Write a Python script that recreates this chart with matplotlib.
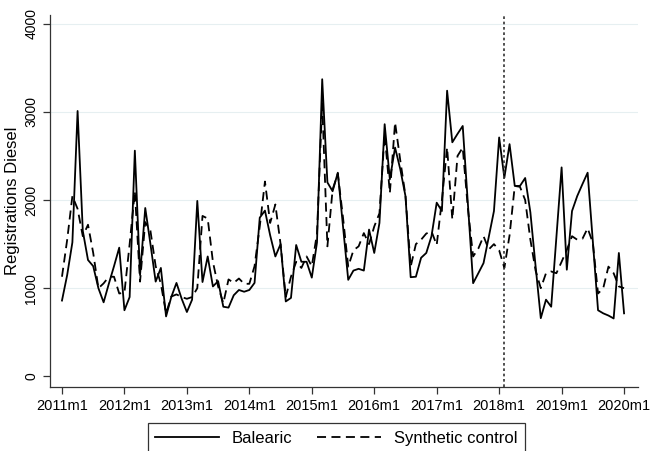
import numpy as np
import matplotlib
matplotlib.use("Agg")
import matplotlib.pyplot as plt

plt.rcParams['font.family'] = ['Liberation Sans', 'DejaVu Sans']

# monthly registrations, 2011m1 .. 2020m1
balearic = [860, 1150, 1520, 3010, 1650, 1320, 1250, 1000, 840, 1050, 1250, 1460,
            750, 900, 2560, 1150, 1910, 1500, 1075, 1230, 680, 900, 1060, 880,
            730, 870, 1990, 1070, 1360, 1020, 1080, 790, 780, 920, 980, 960,
            980, 1060, 1800, 1880, 1600, 1360, 1500, 850, 890, 1490, 1300, 1300,
            1120, 1520, 3370, 2200, 2100, 2310, 1700, 1095, 1200, 1220, 1200, 1665,
            1400, 1740, 2860, 2235, 2595, 2350, 2045, 1125, 1130, 1345, 1400, 1590,
            1970, 1875, 3240, 2655, 2750, 2840, 1950, 1057, 1170, 1285, 1580, 1875,
            2710, 2253, 2634, 2160, 2160, 2250, 1860, 1250, 660, 870, 790, 1580,
            2370, 1210, 1875, 2045, 2180, 2310, 1530, 750, 715, 690, 657, 1400,
            715]
synthetic = [1130, 1550, 2045, 1900, 1590, 1720, 1400, 1000, 1055, 1130, 1130, 940,
             950, 1500, 2100, 1075, 1750, 1650, 1250, 1050, 715, 905, 930, 900,
             880, 900, 1000, 1820, 1790, 1300, 1020, 830, 1100, 1060, 1110, 1050,
             1050, 1250, 1700, 2210, 1740, 1950, 1500, 900, 1130, 1300, 1230, 1360,
             1250, 1620, 3100, 1475, 2120, 2300, 1800, 1245, 1430, 1475, 1625, 1500,
             1700, 1850, 2750, 2080, 2880, 2450, 2050, 1245, 1500, 1550, 1620, 1645,
             1490, 2000, 2595, 1780, 2500, 2595, 1900, 1360, 1450, 1590, 1440, 1500,
             1430, 1230, 1600, 2160, 2150, 2000, 1550, 1200, 1000, 1170, 1190, 1170,
             1300, 1435, 1590, 1550, 1560, 1680, 1515, 940, 1000, 1245, 1170, 1020,
             1000]
tick_labels = ["%dm1" % y for y in range(2011, 2021)]
yticks = [0, 1000, 2000, 3000, 4000]
treatment_month = 85  # 2018m2

months = np.arange(len(balearic))

fig = plt.figure(figsize=(6.52, 4.51), dpi=100)
ax = fig.add_axes([0.0767, 0.142, 0.902, 0.825])

for v in yticks[1:]:
    ax.axhline(v, color='#e6eff1', lw=0.8, zorder=0)

ax.plot(months, balearic, color='black', lw=1.3, label='Balearic')
ax.plot(months, synthetic, color='black', lw=1.3, ls=(0, (5, 3)), label='Synthetic control')
ax.axvline(treatment_month, color='#333333', lw=1.2, ls=(0, (1.6, 1.6)))

ax.set_xlim(-2.3, 110.7)
ax.set_ylim(-120, 4100)
ax.set_xticks(months[::12])
ax.set_xticklabels(tick_labels, fontsize=10.5)
ax.set_yticks(yticks)
ax.set_yticklabels([str(v) for v in yticks], fontsize=10, rotation=90, va='center')
ax.tick_params(direction='out', length=5, width=0.9, color='#333333')
ax.tick_params(axis='x', pad=4)
ax.set_ylabel('Registrations Diesel', fontsize=12, labelpad=3)

for s in ['top', 'right']:
    ax.spines[s].set_visible(False)
for s in ['left', 'bottom']:
    ax.spines[s].set_linewidth(0.9)
    ax.spines[s].set_color('#333333')

leg = fig.legend(loc='upper center', bbox_to_anchor=(0.516, 0.08), ncol=2,
                 fontsize=12, frameon=True, fancybox=False, edgecolor='black',
                 handlelength=3.8, columnspacing=1.5, borderpad=0.45)
leg.get_frame().set_linewidth(0.9)

fig.savefig('out.png', dpi=100)
